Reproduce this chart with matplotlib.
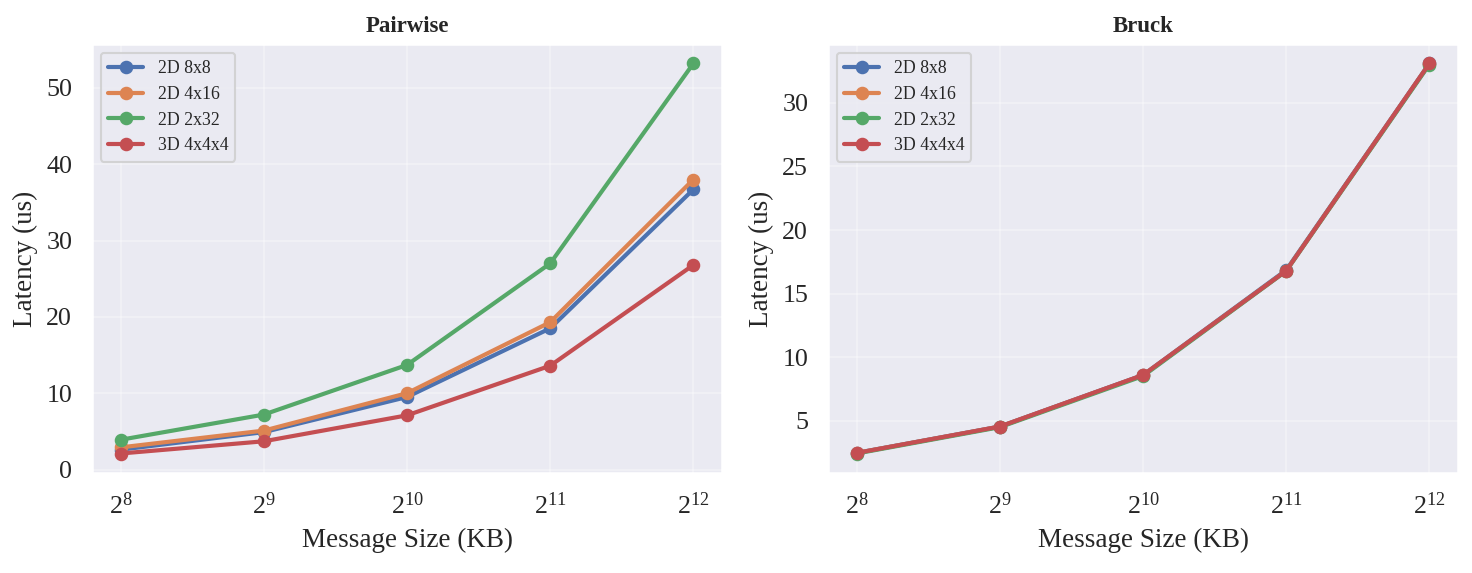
import numpy as np
import matplotlib
matplotlib.use('Agg')
import matplotlib.pyplot as plt
import seaborn as sns

sizes = [256, 512, 1024, 2048, 4096]
size_labels = [r'$2^{8}$', r'$2^{9}$', r'$2^{10}$', r'$2^{11}$', r'$2^{12}$']
topologies = ['2D 8x8', '2D 4x16', '2D 2x32', '3D 4x4x4']

# Pairwise latency (us)
pairwise_8x8 = [2.6, 4.9, 9.5, 18.5, 36.7]
pairwise_4x16 = [2.9, 5.1, 10.0, 19.3, 38.0]
pairwise_2x32 = [3.9, 7.2, 13.7, 27.0, 53.2]
pairwise_4x4x4 = [2.1, 3.7, 7.1, 13.6, 26.8]

# Bruck latency (us)
bruck_8x8 = [2.48, 4.55, 8.60, 16.85, 33.10]
bruck_4x16 = [2.47, 4.54, 8.58, 16.80, 33.08]
bruck_2x32 = [2.43, 4.50, 8.52, 16.78, 33.02]
bruck_4x4x4 = [2.47, 4.55, 8.60, 16.80, 33.10]

sns.set_theme(style='darkgrid')
plt.rcParams['font.family'] = ['Liberation Serif', 'DejaVu Serif']
plt.rcParams['mathtext.fontset'] = 'custom'
plt.rcParams['mathtext.rm'] = 'Liberation Serif'
plt.rcParams['mathtext.it'] = 'Liberation Serif:italic'

colors = sns.color_palette('deep')[:4]

fig, axes = plt.subplots(1, 2, figsize=(1472 / 150, 573 / 150), dpi=150)
W, H = 1472, 573
axes[0].set_position([92 / W, 1 - 473 / H, 630 / W, 429 / H])
axes[1].set_position([828 / W, 1 - 473 / H, 630 / W, 429 / H])

panels = [
    ('Pairwise', [pairwise_8x8, pairwise_4x16, pairwise_2x32, pairwise_4x4x4]),
    ('Bruck', [bruck_8x8, bruck_4x16, bruck_2x32, bruck_4x4x4]),
]

for ax, (title, series) in zip(axes, panels):
    for name, vals, c in zip(topologies, series, colors):
        ax.plot(sizes, vals, marker='o', color=c, linewidth=2, markersize=5.5, label=name)
    ax.set_xscale('log', base=2)
    ax.set_xticks(sizes)
    ax.set_xticklabels(size_labels)
    ax.minorticks_off()
    ax.set_title(title, fontsize=11, fontweight='bold')
    ax.set_xlabel('Message Size (KB)', fontsize=13)
    ax.set_ylabel('Latency (us)', fontsize=13)
    ax.tick_params(labelsize=12.5)
    ax.grid(True, alpha=0.3)
    ax.legend(loc='upper left', fontsize=8.5)

plt.savefig('out.png', dpi=150)
